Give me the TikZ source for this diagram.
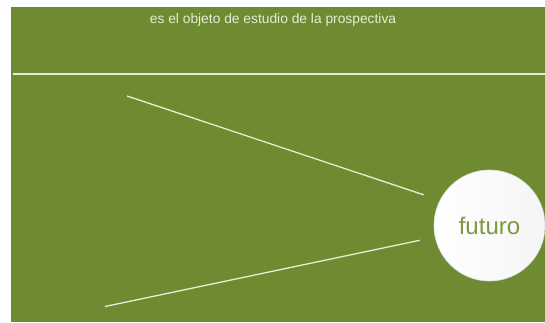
\documentclass[tikz,border=0pt]{standalone}
\usepackage{fontspec}
\setmainfont{Liberation Sans}
\definecolor{prosgreen}{HTML}{6E8B31}
\definecolor{futgreen}{HTML}{7A9940}
\definecolor{paleline}{HTML}{E6ECD6}
\begin{document}
\begin{tikzpicture}[x=1bp,y=-1bp,font=\fontsize{13.8bp}{16bp}\selectfont]
  \useasboundingbox (0,0) rectangle (545,322);
  \fill[prosgreen] (11,6.5) rectangle (545,322);
  \draw[paleline,line width=1.1bp] (13,74) -- (545,74);
  \node[text=paleline] (titulo) at (273,19.5) {es el objeto de estudio de la prospectiva};
  \node[circle,minimum size=111bp,inner sep=0pt,draw=white!88!black,line width=0.6bp,
        shading angle=45,left color=white,right color=black!4,
        text=futgreen,font=\fontsize{24bp}{28bp}\selectfont] (futuro) at (489.5,225.5) {futuro};
  \coordinate (arriba) at (127,96);
  \coordinate (abajo) at (105,306.5);
  \draw[paleline,line width=1.3bp,shorten >=17bp] (arriba) -- (futuro.153);
  \draw[paleline,line width=1.3bp,shorten >=15.5bp] (abajo) -- (futuro.192.6);
\end{tikzpicture}
\end{document}
